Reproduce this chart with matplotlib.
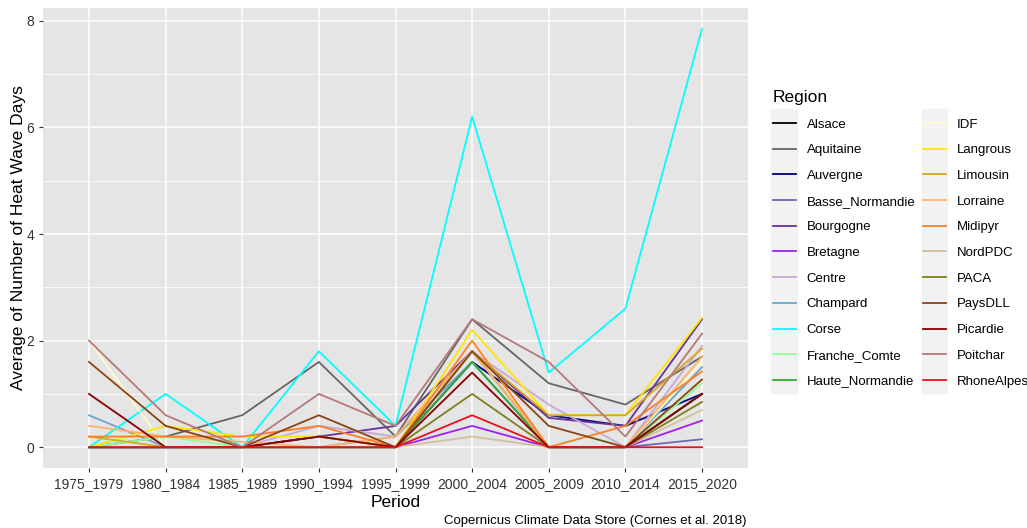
import matplotlib.pyplot as plt
from matplotlib.patches import Rectangle

plt.rcParams['font.family'] = ['Liberation Sans', 'DejaVu Sans']

# periods on the x axis
periods = ["1975_1979", "1980_1984", "1985_1989", "1990_1994", "1995_1999",
           "2000_2004", "2005_2009", "2010_2014", "2015_2020"]

# average number of heat wave days per region
alsace = [0, 0, 0, 0.2, 0, 1.8, 0, 0, 1.0]
aquitaine = [0, 0.2, 0.6, 1.6, 0.2, 2.4, 1.2, 0.8, 1.7]
auvergne = [0, 0, 0, 0, 0, 1.6, 0.6, 0.4, 1.0]
basse_normandie = [0, 0, 0, 0, 0, 1.6, 0, 0, 0.15]
bourgogne = [0, 0, 0, 0.2, 0.4, 1.8, 0.55, 0.4, 2.4]
bretagne = [0, 0, 0, 0, 0, 0.4, 0, 0, 0.5]
centre = [0, 0, 0, 0.4, 0.2, 1.8, 0.8, 0, 1.9]
champard = [0.6, 0, 0, 0, 0.2, 1.6, 0, 0, 1.5]
corse = [0, 1.0, 0, 1.8, 0.4, 6.2, 1.4, 2.6, 7.85]
franche_comte = [0, 0.2, 0, 0, 0, 1.8, 0, 0, 1.2]
haute_normandie = [0, 0, 0, 0, 0, 1.6, 0, 0, 1.0]
idf = [2.0, 0, 0, 0, 0, 2.0, 0, 0, 1.6]
langrous = [0, 0.4, 0.2, 0.2, 0, 2.2, 0.6, 0.6, 2.43]
limousin = [0.2, 0, 0, 0, 0, 1.8, 0.6, 0.6, 1.85]
lorraine = [0.4, 0.2, 0.1, 0, 0.2, 1.8, 0, 0, 1.7]
midipyr = [0.2, 0.2, 0.2, 0.4, 0, 2.0, 0, 0.4, 1.42]
nordpdc = [0, 0, 0, 0, 0, 0.2, 0, 0, 0.7]
paca = [0, 0, 0, 0, 0, 1.0, 0, 0, 0.85]
paysdll = [1.6, 0.4, 0, 0.6, 0, 1.8, 0.4, 0, 1.27]
picardie = [1.0, 0, 0, 0.2, 0, 1.4, 0, 0, 1.0]
poitchar = [2.0, 0.6, 0, 1.0, 0.4, 2.4, 1.6, 0.2, 2.13]
rhonealpes = [0, 0, 0, 0, 0, 0.6, 0, 0, 0]

regions = ["Alsace", "Aquitaine", "Auvergne", "Basse_Normandie", "Bourgogne",
           "Bretagne", "Centre", "Champard", "Corse", "Franche_Comte",
           "Haute_Normandie", "IDF", "Langrous", "Limousin", "Lorraine",
           "Midipyr", "NordPDC", "PACA", "PaysDLL", "Picardie", "Poitchar",
           "RhoneAlpes"]
values = [alsace, aquitaine, auvergne, basse_normandie, bourgogne, bretagne,
          centre, champard, corse, franche_comte, haute_normandie, idf,
          langrous, limousin, lorraine, midipyr, nordpdc, paca, paysdll,
          picardie, poitchar, rhonealpes]
colors = ["#000000", "#666666", "#000080", "#6A6AB0", "#663399", "#A020F0",
          "#C8A8D8", "#6CA6CD", "#00FFFF", "#98FB98", "#33AA33", "#FFFACD",
          "#FFE600", "#DAA520", "#FFB366", "#FF7F24", "#D2BFA0", "#7F7F1F",
          "#8B4513", "#8B0000", "#B87878", "#E8101C"]

fig = plt.figure(figsize=(10.27, 5.28), dpi=100)
ax = fig.add_axes([43 / 1027, 1 - 468 / 528, 705 / 1027, 460 / 528])
ax.set_facecolor("#E5E5E5")

x = list(range(len(periods)))
for name, vals, c in zip(regions, values, colors):
    ax.plot(x, vals, color=c, lw=1.3, label=name)

ax.set_xlim(-0.6, 8.6)
ax.set_ylim(-0.39, 8.24)
ax.set_xticks(x)
ax.set_xticklabels(periods)
ax.set_yticks([0, 2, 4, 6, 8])
ax.set_yticks([1, 3, 5, 7], minor=True)
ax.grid(which="major", color="white", lw=1.1)
ax.grid(which="minor", axis="y", color="white", lw=0.55)
ax.set_axisbelow(True)
for s in ax.spines.values():
    s.set_visible(False)
ax.tick_params(which="major", colors="#333333", labelsize=10, length=3, color="#333333")
ax.tick_params(which="minor", length=0)
ax.set_xlabel("Period", fontsize=12.5, labelpad=3)
ax.set_ylabel("Average of Number of Heat Wave Days", fontsize=12.5, labelpad=0)

# legend key backgrounds like ggplot
for x0, x1 in ((771, 797), (922, 947)):
    fig.patches.append(Rectangle((x0 / 1027, 1 - 393 / 528), (x1 - x0) / 1027, 284 / 528,
                                 transform=fig.transFigure, color="#F2F2F2", zorder=0))

leg = fig.legend(loc="upper left", bbox_to_anchor=(761 / 1027, 1 - 78 / 528),
                 ncol=2, frameon=False, fontsize=9.5, title="Region",
                 title_fontsize=12.5, handlelength=1.75, handletextpad=0.8,
                 labelspacing=1.02, columnspacing=0.6, alignment="left")

fig.text(747 / 1027, 1 - 521 / 528, "Copernicus Climate Data Store (Cornes et al. 2018)",
         ha="right", va="center", fontsize=9.5)

fig.savefig("out.png", dpi=100)
